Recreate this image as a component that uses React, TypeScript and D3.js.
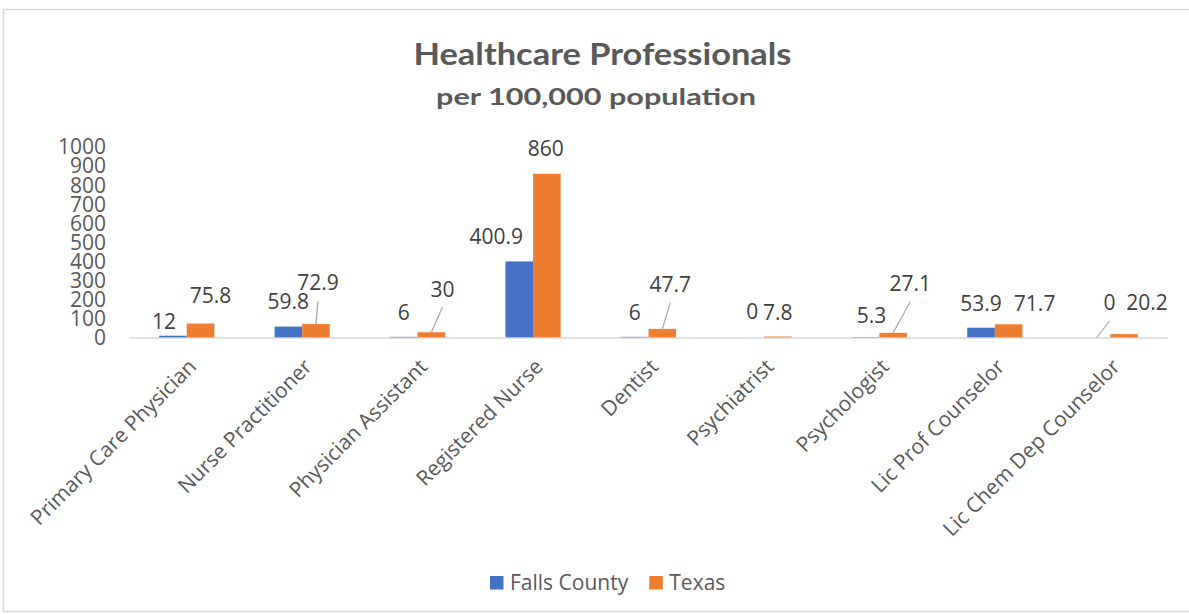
import React from 'react';
import * as d3 from 'd3';

const categories = [
  'Primary Care Physician',
  'Nurse Practitioner',
  'Physician Assistant',
  'Registered Nurse',
  'Dentist',
  'Psychiatrist',
  'Psychologist',
  'Lic Prof Counselor',
  'Lic Chem Dep Counselor',
];
const seriesNames = ['Falls County', 'Texas'];
const fallsCounty = [12, 59.8, 6, 400.9, 6, 0, 5.3, 53.9, 0];
const texas = [75.8, 72.9, 30, 860, 47.7, 7.8, 27.1, 71.7, 20.2];
const yTicks = [0, 100, 200, 300, 400, 500, 600, 700, 800, 900, 1000];

// label placement (pixel offsets from bar top centre), and leader-line flags
const fallsLabelOffsets: [number, number][] = [
  [-9, -14], [0, -25], [0, -24], [-23, -25], [0, -24], [2, -26], [6, -21], [0, -24], [13, -35],
];
const fallsLeader = [false, false, false, false, false, false, false, false, true];
const texasLabelOffsets: [number, number][] = [
  [10, -28], [2, -41], [11, -43], [-1, -25], [8, -44], [0, -24], [17, -49], [26, -21], [23, -31],
];
const texasLeader = [false, true, true, false, true, false, true, false, false];

const colors = ['#4472C4', '#ED7D31'];
const textColor = '#595959';
const labelColor = '#404040';
const font = "'Open Sans', 'Noto Sans', sans-serif";

export default function App() {
  const W = 1189;
  const H = 614;
  const x = d3.scaleBand<string>().domain(categories).range([129, 1168]).paddingInner(0).paddingOuter(0);
  const xi = d3.scaleBand<string>().domain(seriesNames).range([0, x.step()]).paddingInner(0).paddingOuter(1.09);
  const y = d3.scaleLinear().domain([0, 1000]).range([338, 147]);
  const series = [fallsCounty, texas];
  const offsets = [fallsLabelOffsets, texasLabelOffsets];
  const leaders = [fallsLeader, texasLeader];

  return (
    <div style={{ position: 'fixed', left: 0, top: 0 }}>
      <svg width={W} height={H} style={{ display: 'block', background: '#fff' }}>
        <rect x={3.5} y={9.5} width={1200} height={602} fill="#fff" stroke="#d9d9d9" strokeWidth={1.5} />
        <text x={602.5} y={65} textAnchor="middle" fontFamily="Lato, 'Open Sans', sans-serif" fontWeight={700}
          fontSize={29.5} fill={textColor} textLength={378} lengthAdjust="spacingAndGlyphs">
          Healthcare Professionals
        </text>
        <text x={596} y={104.5} textAnchor="middle" fontFamily="Lato, 'Open Sans', sans-serif" fontWeight={700}
          fontSize={22} fill={textColor} textLength={320} lengthAdjust="spacingAndGlyphs">
          per 100,000 population
        </text>

        {yTicks.map((t) => (
          <text key={t} x={106} y={y(t)} dy="0.35em" textAnchor="end" fontFamily={font} fontSize={21} fill={textColor}>
            {t}
          </text>
        ))}

        {series.map((vals, si) =>
          vals.map((v, i) => {
            const c = categories[i];
            const bx = (x(c) as number) + (xi(seriesNames[si]) as number);
            return (
              <rect key={`b${si}-${i}`} x={bx} y={y(v)} width={xi.bandwidth()} height={y(0) - y(v)} fill={colors[si]} />
            );
          })
        )}

        <line x1={x.range()[0]} x2={x.range()[1]} y1={y(0)} y2={y(0)} stroke="#d9d9d9" strokeWidth={1.5} />

        {series.map((vals, si) =>
          vals.map((v, i) => {
            const c = categories[i];
            const cx = (x(c) as number) + (xi(seriesNames[si]) as number) + xi.bandwidth() / 2;
            const top = y(v);
            const [dx, dy] = offsets[si][i];
            const lx = cx + dx;
            const ly = top + dy;
            return (
              <g key={`l${si}-${i}`}>
                {leaders[si][i] && (
                  <line x1={lx} y1={ly + 18} x2={cx} y2={top} stroke="#a6a6a6" strokeWidth={1.2} />
                )}
                <text x={lx} y={ly} dy="0.35em" textAnchor="middle" fontFamily={font} fontSize={21} fill={labelColor}>
                  {String(v)}
                </text>
              </g>
            );
          })
        )}

        {categories.map((c) => {
          const cx = (x(c) as number) + x.bandwidth() / 2;
          return (
            <text key={c} transform={`translate(${cx + 11},${368}) rotate(-45)`} textAnchor="end"
              fontFamily={font} fontSize={21} fill={textColor}>
              {c}
            </text>
          );
        })}

        {seriesNames.map((s, si) => {
          const lx = [490, 649.3][si];
          return (
            <g key={s}>
              <rect x={lx} y={576} width={13.5} height={13.5} fill={colors[si]} />
              <text x={lx + 20} y={589.5} fontFamily={font} fontSize={21} fill={textColor}>{s}</text>
            </g>
          );
        })}
      </svg>
    </div>
  );
}
